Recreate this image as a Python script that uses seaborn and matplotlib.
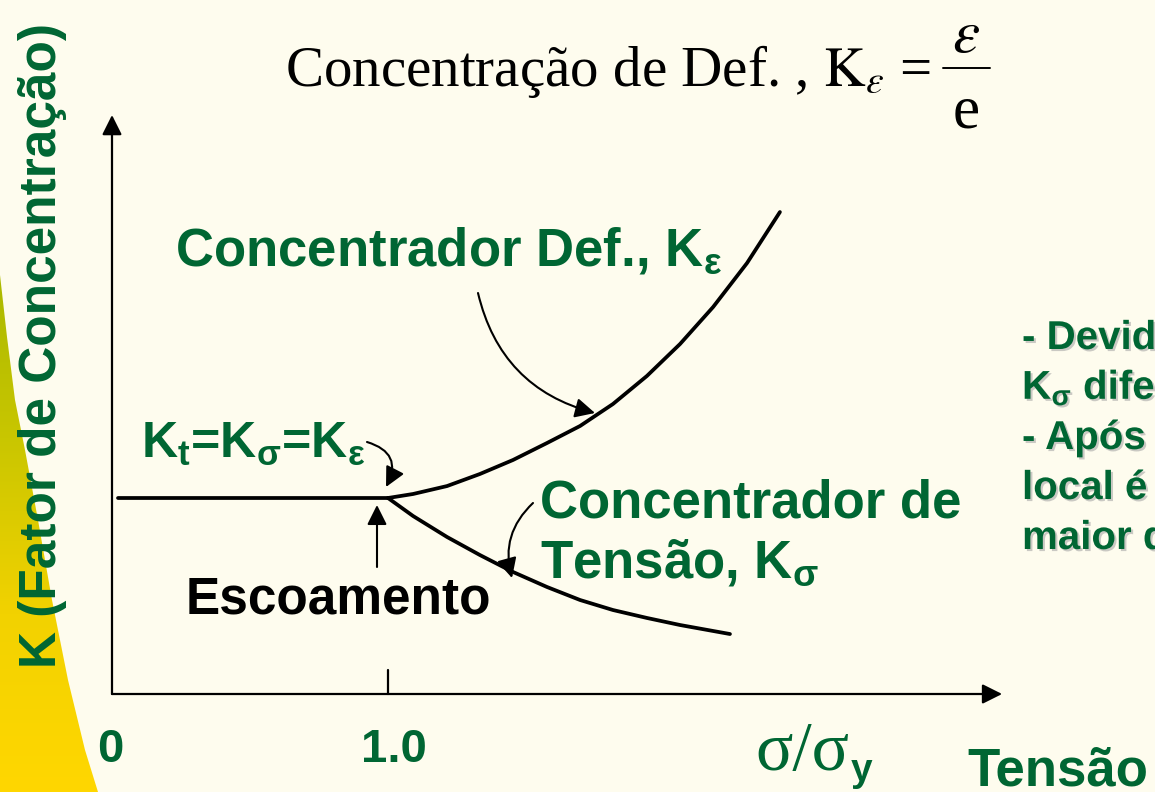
import matplotlib
matplotlib.use("Agg")
import numpy as np
import pandas as pd
import seaborn as sns
import matplotlib.pyplot as plt
import matplotlib.patheffects as pe
from matplotlib.patches import Polygon
from matplotlib.colors import LinearSegmentedColormap

# --- values (x = sigma/sigma_y, y = K in arbitrary units) ---
elastic_x = [0.02, 1.0]
elastic_k = [2.0, 2.0]
strain_x = [1.000, 1.091, 1.214, 1.333, 1.453, 1.576, 1.696, 1.815, 1.938, 2.058, 2.178, 2.301, 2.420]
strain_k = [2.000, 2.041, 2.122, 2.245, 2.388, 2.561, 2.735, 2.959, 3.245, 3.571, 3.949, 4.398, 4.918]
stress_x = [1.000, 1.091, 1.214, 1.333, 1.453, 1.576, 1.696, 1.815, 1.938, 2.058, 2.239]
stress_k = [2.000, 1.816, 1.602, 1.418, 1.245, 1.092, 0.959, 0.857, 0.776, 0.704, 0.612]

tick_values = [0.0, 1.0]
tick_labels = ["0", "1.0"]
x_axis_end = 3.225
y_axis_end = 5.908

notes = ["- Devido ao escoamento,", "K$_σ$ diferente de K$_ε$", "- Após o escoamento, a deformação",
         "local é muito", "maior do que a tensão"]

GREEN = "#006633"
BG = "#FEFCEE"

sns.set_theme(style="white")
plt.rcParams["font.family"] = ["Liberation Sans", "DejaVu Sans"]
plt.rcParams["mathtext.fontset"] = "custom"
for key in ["rm", "it", "bf", "sf"]:
    plt.rcParams["mathtext." + key] = "Liberation Sans:bold"

W, H = 1155, 792


def d(px, py):
    """pixel position on the slide -> data coordinates"""
    return ((px - 112) / 276, (694 - py) / 98)


fig = plt.figure(figsize=(W / 100, H / 100), dpi=100, facecolor=BG)
ax = fig.add_axes([0, 0, 1, 1])
ax.set_facecolor(BG)
ax.set_xlim(d(0, 0)[0], d(W, 0)[0])
ax.set_ylim(d(0, H)[1], d(0, 0)[1])
ax.axis("off")

# yellow wedge on the left edge of the slide
edge = [(0, 275), (7, 337), (15, 400), (25, 450), (38, 520), (52, 600), (68, 680), (85, 750), (98, 792), (0, 792)]
wedge = Polygon([d(*p) for p in edge], closed=True, facecolor="none", edgecolor="none")
ax.add_patch(wedge)
cmap = LinearSegmentedColormap.from_list("wedge", ["#A8B800", "#C9C600", "#F2D200", "#FFD700"])
x0, y0 = d(0, 792)
x1, y1 = d(110, 260)
img = ax.imshow(np.linspace(0, 1, 256)[:, None], cmap=cmap, extent=[x0, x1, y0, y1],
                aspect="auto", origin="upper", zorder=0)
img.set_clip_path(wedge)

# curves
line_kw = dict(color="black", linewidth=2.7, sort=False, ax=ax, legend=False)
sns.lineplot(x=elastic_x, y=elastic_k, **line_kw)
sns.lineplot(x=strain_x, y=strain_k, **line_kw)
sns.lineplot(x=stress_x, y=stress_k, **line_kw)

# axes with arrow heads
arrow_kw = dict(arrowstyle="-|>,head_length=0.6,head_width=0.3", color="black", lw=1.6,
                mutation_scale=20, shrinkA=0, shrinkB=0)
ax.annotate("", xy=(x_axis_end, 0), xytext=(0, 0), arrowprops=arrow_kw)
ax.annotate("", xy=(0, y_axis_end), xytext=(0, 0), arrowprops=arrow_kw)
ax.plot([tick_values[1], tick_values[1]], [0, 0.245], color="black", lw=1.6)

ax.text(*d(110, 762), tick_labels[0], ha="center", va="baseline", fontsize=34,
        fontweight="bold", color=GREEN)
ax.text(tick_values[1] + 0.02, d(0, 762)[1], tick_labels[1], ha="center", va="baseline",
        fontsize=34, fontweight="bold", color=GREEN)
ax.text(*d(755, 770), "σ/σ", ha="left", va="baseline", fontsize=50,
        family="Liberation Serif", color=GREEN)
ax.text(*d(851, 781), "y", ha="left", va="baseline", fontsize=28, fontweight="bold", color=GREEN)
ax.text(*d(967, 785), "Tensão", ha="left", va="baseline", fontsize=38, fontweight="bold", color=GREEN)

ax.text(*d(43, 346), "K (Fator de Concentração)", rotation=90, ha="center", va="center",
        fontsize=37, fontweight="bold", color=GREEN)

# title formula
ax.text(*d(285, 86), r"Concentração de Def. , $\mathrm{K}_{\varepsilon}$",
        family="Liberation Serif", math_fontfamily="stix", fontsize=41, ha="left", va="baseline",
        color="black")
ax.text(*d(899, 86), "=", family="Liberation Serif", fontsize=41, ha="left", va="baseline",
        color="black")
ax.text(*d(966, 52), r"$\varepsilon$", math_fontfamily="stix", fontsize=44, ha="center",
        va="baseline", color="black")
ax.plot(*zip(d(943, 68), d(990, 68)), color="black", lw=1.4)
ax.text(*d(966, 128), "e", family="Liberation Serif", fontsize=44, ha="center",
        va="baseline", color="black")

# labels on the curves
ax.text(*d(175, 266), "Concentrador Def., K$_ε$", fontsize=38, fontweight="bold", color=GREEN,
        ha="left", va="baseline")
ax.text(*d(141, 458), "K$_t$=K$_σ$=K$_ε$", fontsize=36, fontweight="bold", color=GREEN,
        ha="left", va="baseline")
ax.text(*d(540, 517), "Concentrador de", fontsize=38, fontweight="bold", color=GREEN,
        ha="left", va="baseline")
ax.text(*d(540, 578), "Tensão, K$_σ$", fontsize=38, fontweight="bold", color=GREEN,
        ha="left", va="baseline")
ax.text(*d(186, 613), "Escoamento", fontsize=37, fontweight="bold", color="black",
        ha="left", va="baseline")

# pointer arrows
ptr = dict(arrowstyle="-|>,head_length=0.6,head_width=0.3", color="black", lw=1.5,
           mutation_scale=20, shrinkA=0, shrinkB=0)
ax.annotate("", xy=d(595, 413), xytext=d(478, 293),
            arrowprops=dict(ptr, connectionstyle="arc3,rad=0.3"))
ax.annotate("", xy=d(386, 487), xytext=d(367, 442),
            arrowprops=dict(ptr, connectionstyle="arc3,rad=-0.6"))
ax.annotate("", xy=d(512, 578), xytext=d(533, 503),
            arrowprops=dict(ptr, connectionstyle="arc3,rad=0.3"))
ax.annotate("", xy=d(377, 505), xytext=d(377, 567), arrowprops=ptr)

# side notes (clipped by the slide edge)
shadow = [pe.withSimplePatchShadow(offset=(1.5, -1.5), shadow_rgbFace="#a0a0a0", alpha=0.55)]
for i, line in enumerate(notes):
    ax.text(*d(1022, 349 + i * 50), line, fontsize=29, fontweight="bold", color=GREEN,
            ha="left", va="baseline", path_effects=shadow)

fig.savefig("out.png", dpi=100, facecolor=BG)
